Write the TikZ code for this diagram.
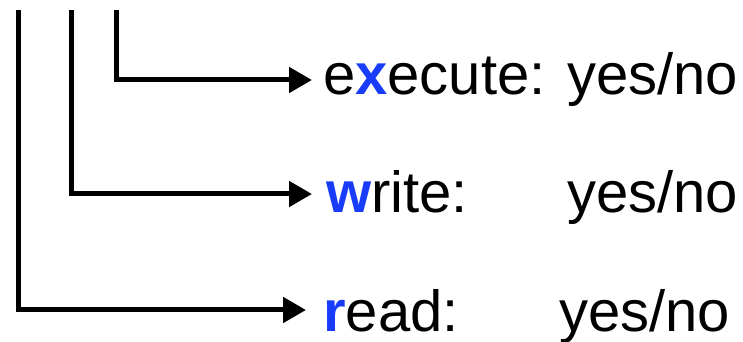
\documentclass[tikz,border=0pt]{standalone}
\usepackage{fontspec}
\setmainfont{Liberation Sans}
\usetikzlibrary{arrows.meta}
\definecolor{keyblue}{RGB}{25,60,250}
\begin{document}
\begin{tikzpicture}[x=1pt,y=1pt,
  bracket/.style={line width=5pt,line join=miter,-{Triangle[length=23pt,width=25pt]}},
  perm/.style={inner sep=0pt,anchor=base west,font=\fontsize{58}{70}\selectfont}]
\useasboundingbox (0,0) rectangle (743,342);
% permission labels
\node[perm] (xlab) at (323,247) {e{\color{keyblue}\bfseries x}ecute:};
\node[perm] (xval) at (567,247) {yes/no};
\node[perm] (wlab) at (326,129) {{\color{keyblue}\bfseries w}rite:};
\node[perm] (wval) at (567,129) {yes/no};
\node[perm] (rlab) at (323,10) {{\color{keyblue}\bfseries r}ead:};
\node[perm] (rval) at (559,10) {yes/no};
% bit lines coming down from above
\coordinate (xtop) at (116,332);
\coordinate (wtop) at (71.5,332);
\coordinate (rtop) at (18,332);
\coordinate (xend) at (312,262);
\coordinate (wend) at (312,148);
\coordinate (rend) at (306,32);
\draw[bracket] (xtop) |- (xend);
\draw[bracket] (wtop) |- (wend);
\draw[bracket] (rtop) |- (rend);
\end{tikzpicture}
\end{document}
